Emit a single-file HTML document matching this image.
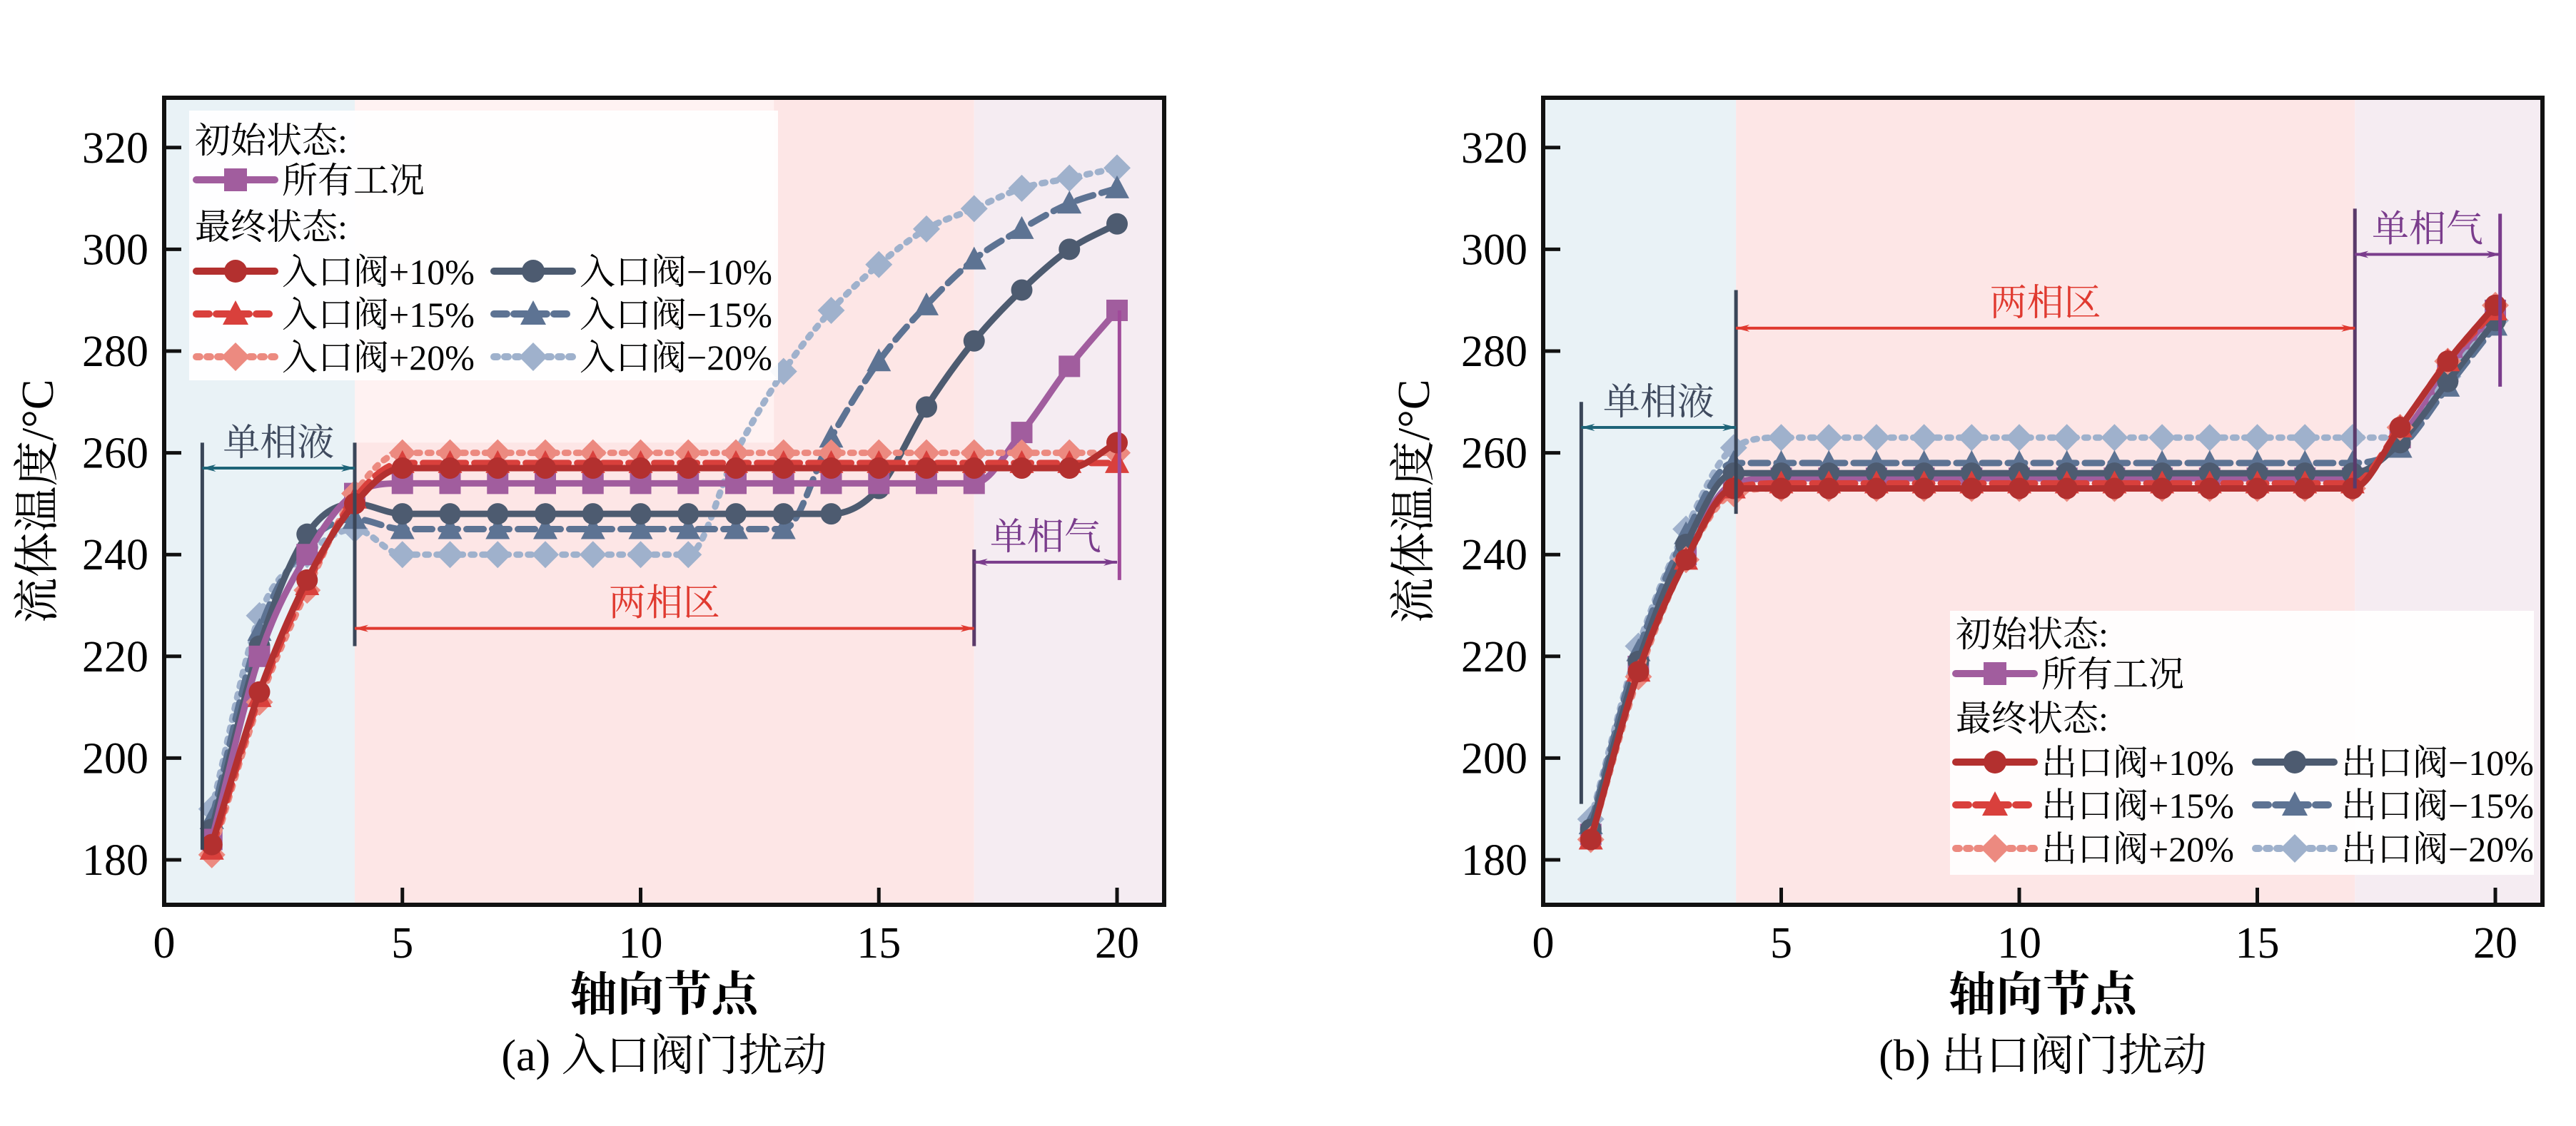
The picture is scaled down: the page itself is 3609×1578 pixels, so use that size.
<!DOCTYPE html>
<html><head><meta charset="utf-8">
<style>
html,body{margin:0;padding:0;background:#fff;}
svg{display:block;font-family:"Liberation Serif","Noto Serif CJK SC",serif;}
</style></head>
<body>
<svg id="chart" width="3609" height="1578" viewBox="0 0 3609 1578" xmlns="http://www.w3.org/2000/svg"></svg>
<script>
// ---- data ----
const nodes = [1,2,3,4,5,6,7,8,9,10,11,12,13,14,15,16,17,18,19,20];
const xTicks = [0,5,10,15,20];
const yTicks = [180,200,220,240,260,280,300,320];
// panel (a) inlet valve
const aInit = [184,220,240,252,254,254,254,254,254,254,254,254,254,254,254,254,254,264,277,288];
const aP10  = [183,213,235,250,257,257,257,257,257,257,257,257,257,257,257,257,257,257,257,262];
const aP15  = [182,212,234,251,258,258,258,258,258,258,258,258,258,258,258,258,258,258,258,258];
const aP20  = [181,211,233,252,260,260,260,260,260,260,260,260,260,260,260,260,260,260,260,260];
const aM10  = [186,222,244,250,248,248,248,248,248,248,248,248,248,248,253,269,282,292,300,305];
const aM15  = [188,225,242,247,245,245,245,245,245,245,245,245,245,263,278,289,298,304,309,312];
const aM20  = [190,228,240,245,240,240,240,240,240,240,240,260,276,288,297,304,308,312,314,316];
// panel (b) outlet valve
const bInit = [185,218,240,254,255,255,255,255,255,255,255,255,255,255,255,255,255,263,276,288];
const bP10  = [184,217,239,253,253,253,253,253,253,253,253,253,253,253,253,253,253,265,278,289];
const bP15  = [184,217,239,253,254,254,254,254,254,254,254,254,254,254,254,254,254,265,278,288];
const bP20  = [184,216,239,252,253,253,253,253,253,253,253,253,253,253,253,253,253,265,278,289];
const bM10  = [186,219,242,256,256,256,256,256,256,256,256,256,256,256,256,256,256,262,274,286];
const bM15  = [187,221,244,258,258,258,258,258,258,258,258,258,258,258,258,258,258,261,273,285];
const bM20  = [188,222,245,261,263,263,263,263,263,263,263,263,263,263,263,263,263,263,275,286];

const NS="http://www.w3.org/2000/svg";
const svg=document.getElementById('chart');
function el(tag,attrs,parent,text){const e=document.createElementNS(NS,tag);for(const k in attrs)e.setAttribute(k,attrs[k]);if(text!==undefined)e.textContent=text;(parent||svg).appendChild(e);return e;}

const defs=el('defs',{});
function mkArrow(id,color){const m=el('marker',{id:id,viewBox:'0 0 20 10',refX:'19',refY:'5',markerWidth:'20',markerHeight:'10',markerUnits:'userSpaceOnUse',orient:'auto-start-reverse'},defs);el('path',{d:'M0,0 L20,5 L0,10 L6,5 Z',fill:color},m);}
mkArrow('arT','#1e6478');mkArrow('arR','#e03a30');mkArrow('arP','#7a3c8c');

const styles={
 init:{c:'#a15d9e',dash:null,m:'sq',w:9},
 p10:{c:'#b3302f',dash:null,m:'ci',w:9},
 p15:{c:'#d9403c',dash:'24 12',m:'tri',w:9},
 p20:{c:'#ec8a80',dash:'5 11',m:'dia',w:9},
 m10:{c:'#4d5b70',dash:null,m:'ci',w:9},
 m15:{c:'#5d7393',dash:'24 12',m:'tri',w:9},
 m20:{c:'#9fb1cc',dash:'5 11',m:'dia',w:9}
};

function marker(g,type,x,y,c,s){
 s=s||15;
 if(type==='sq')return el('rect',{x:x-s,y:y-s,width:2*s,height:2*s,fill:c},g);
 if(type==='ci')return el('circle',{cx:x,cy:y,r:s,fill:c},g);
 if(type==='tri')return el('polygon',{points:`${x},${y-s-3} ${x+s+2},${y+s-1} ${x-s-2},${y+s-1}`,fill:c},g);
 return el('polygon',{points:`${x},${y-s-4} ${x+s+4},${y} ${x},${y+s+4} ${x-s-4},${y}`,fill:c},g);
}

// monotone cubic path
function smoothPath(px,py){
 const n=px.length,d=[],m=new Array(n);
 for(let i=0;i<n-1;i++)d.push((py[i+1]-py[i])/(px[i+1]-px[i]));
 m[0]=d[0];m[n-1]=d[n-2];
 for(let i=1;i<n-1;i++){m[i]=(d[i-1]*d[i]<=0)?0:(d[i-1]+d[i])/2;}
 for(let i=0;i<n-1;i++){if(d[i]===0){m[i]=0;m[i+1]=0;continue;}const a=m[i]/d[i],b=m[i+1]/d[i],s=a*a+b*b;if(s>9){const t=3/Math.sqrt(s);m[i]=t*a*d[i];m[i+1]=t*b*d[i];}}
 let p='M'+px[0]+','+py[0];
 for(let i=0;i<n-1;i++){const h=(px[i+1]-px[i])/3;p+=` C${px[i]+h},${py[i]+m[i]*h} ${px[i+1]-h},${py[i+1]-m[i+1]*h} ${px[i+1]},${py[i+1]}`;}
 return p;
}

function panel(P){
 const X=v=>P.x0+v*P.kx, Y=v=>P.y180-(v-180)*P.ky;
 const g=el('g',{});
 const bgs=[[0,P.b1,'#e9f2f6'],[P.b1,P.b2,'#fde6e6'],[P.b2,21,'#f5ecf2']];
 bgs.forEach((b,i)=>{const r=el('rect',{x:X(b[0]),y:P.top,width:X(b[1])-X(b[0]),height:P.bot-P.top,fill:b[2]},g);});
 if(P.extra)P.extra(g,X,Y);
 P.series.forEach(s=>{
  const st=styles[s.k];
  const sg=el('g',{},g);
  const d=smoothPath(nodes.map(X),s.v.map(Y));
  const a={d:d,fill:'none',stroke:st.c,'stroke-width':st.w,'stroke-linejoin':'round','stroke-linecap':'round'};
  if(st.dash)a['stroke-dasharray']=st.dash;
  el('path',a,sg);
  nodes.forEach((n,i)=>{const m=marker(sg,st.m,X(n),Y(s.v[i]),st.c);});
 });
 P.ann.forEach(a=>{
  const ag=el('g',{},g);
  a.vl.forEach(v=>el('line',{x1:X(v[0]),x2:X(v[0]),y1:Y(v[1]),y2:Y(v[2]),stroke:v[3],'stroke-width':5},ag));
  el('line',{x1:X(a.x1),x2:X(a.x2),y1:Y(a.y),y2:Y(a.y),stroke:a.c,'stroke-width':4,'marker-start':'url(#'+a.m+')','marker-end':'url(#'+a.m+')'},ag);
  el('text',{x:(X(a.x1)+X(a.x2))/2,y:Y(a.y)-18,'text-anchor':'middle','font-size':52,fill:a.tc},ag,a.text);
 });
 const L=P.leg;
 const lg=el('g',{},g);
 el('rect',{x:L.x,y:L.y,width:L.w,height:L.h,fill:'#ffffff','fill-opacity':0.92},lg);
 const rows=L.rows, fs=50;
 el('text',{x:L.x+8,y:rows[0]+17,'font-size':fs},lg,'初始状态:');
 el('text',{x:L.x+8,y:rows[2]+17,'font-size':fs},lg,'最终状态:');
 function entry(k,lx,ly,label){
  const st=styles[k];const eg=el('g',{},lg);
  const a={x1:lx,x2:lx+110,y1:ly,y2:ly,stroke:st.c,'stroke-width':10,'stroke-linecap':'round'};if(st.dash)a['stroke-dasharray']=st.dash==='5 11'?'5 10':'18 10';
  el('line',a,eg);marker(eg,st.m,lx+55,ly,st.c,16);
  el('text',{x:lx+120,y:ly+18,'font-size':fs},eg,label);
 }
 entry('init',L.c1,rows[1],'所有工况');
 const ks=[['p10','+10%'],['p15','+15%'],['p20','+20%']],km=[['m10','-10%'],['m15','-15%'],['m20','-20%']];
 ks.forEach((k,i)=>entry(k[0],L.c1,rows[3+i],P.pref+k[1]));
 km.forEach((k,i)=>entry(k[0],L.c2,rows[3+i],P.pref+k[1].replace('-','−')));
 const ax=el('g',{},g);
 el('rect',{x:P.x0,y:P.top,width:P.right-P.x0,height:P.bot-P.top,fill:'none',stroke:'#111','stroke-width':6},ax);
 yTicks.forEach(t=>{el('line',{x1:P.x0,x2:P.x0+24,y1:Y(t),y2:Y(t),stroke:'#111','stroke-width':5},ax);
  const tt=el('text',{x:P.x0-22,y:Y(t)+21,'text-anchor':'end','font-size':62},ax,String(t));});
 xTicks.forEach(t=>{if(t>0)el('line',{x1:X(t),x2:X(t),y1:P.bot,y2:P.bot-24,stroke:'#111','stroke-width':5},ax);
  const tt=el('text',{x:X(t),y:P.bot+74,'text-anchor':'middle','font-size':62},ax,String(t));});
 const yl=el('text',{x:0,y:0,transform:`translate(${P.ylx},${(P.top+P.bot)/2}) rotate(-90)`,'text-anchor':'middle','font-size':64},g,'流体温度/°C');
 
 const cx=(P.x0+P.right)/2;
 const xl=el('text',{x:cx,y:1416,'text-anchor':'middle','font-size':66,'font-weight':'bold'},g,'轴向节点');
 
 const cap=el('text',{x:cx,y:1500,'text-anchor':'middle','font-size':62},g,P.caption);
 
}

panel({name:'panel-a-inlet',x0:230,right:1631,kx:66.75,top:137,bot:1268,y180:1205,ky:7.13,b1:4,b2:17,
 pref:'入口阀',caption:'(a) 入口阀门扰动',ylx:74,
 extra:(g,X,Y)=>{el('rect',{x:X(4),y:137,width:X(12.8)-X(4),height:Y(262)-137,fill:'#fff2f2'},g);},
 series:[{k:'m20',v:aM20,label:'m20'},{k:'m15',v:aM15,label:'m15'},{k:'m10',v:aM10,label:'m10'},{k:'init',v:aInit,label:'init'},{k:'p20',v:aP20,label:'p20'},{k:'p15',v:aP15,label:'p15'},{k:'p10',v:aP10,label:'p10'}],
 ann:[{name:'single-liquid-annotation',vl:[[0.8,262,182,'#3a4658'],[4,262,222,'#3a4658']],x1:0.8,x2:4,y:257,c:'#1e6478',m:'arT',text:'单相液',tc:'#3f4a5e'},
      {name:'two-phase-annotation',vl:[[17,241,222,'#5a3a6a']],x1:4,x2:17,y:225.5,c:'#e03a30',m:'arR',text:'两相区',tc:'#e03a30'},
      {name:'single-vapor-annotation',vl:[[20.05,288,235,'#a04a9a']],x1:17,x2:20,y:238.5,c:'#7a3c8c',m:'arP',text:'单相气',tc:'#7a3c8c'}],
 leg:{x:265,y:155,w:825,h:378,rows:[197,252,318,380,440,500],c1:275,c2:692}
});

panel({name:'panel-b-outlet',x0:2162,right:3562,kx:66.7,top:137,bot:1268,y180:1205,ky:7.13,b1:4.05,b2:17.05,
 pref:'出口阀',caption:'(b) 出口阀门扰动',ylx:2002,
 series:[{k:'init',v:bInit,label:'init'},{k:'m20',v:bM20,label:'m20'},{k:'m15',v:bM15,label:'m15'},{k:'m10',v:bM10,label:'m10'},{k:'p20',v:bP20,label:'p20'},{k:'p15',v:bP15,label:'p15'},{k:'p10',v:bP10,label:'p10'}],
 ann:[{name:'single-liquid-annotation',vl:[[0.8,270,191,'#3a4658'],[4.05,292,248,'#3a4658']],x1:0.8,x2:4.05,y:265,c:'#1e6478',m:'arT',text:'单相液',tc:'#3f4a5e'},
      {name:'two-phase-annotation',vl:[[17.05,308,253,'#5a3a6a']],x1:4.05,x2:17.05,y:284.5,c:'#e03a30',m:'arR',text:'两相区',tc:'#e03a30'},
      {name:'single-vapor-annotation',vl:[[20.1,307,273,'#7a3c8c']],x1:17.05,x2:20.1,y:299,c:'#7a3c8c',m:'arP',text:'单相气',tc:'#7a3c8c'}],
 leg:{x:2732,y:856,w:818,h:370,rows:[889,944,1007,1068,1128,1189],c1:2740,c2:3160}
});
</script>
</body></html>
